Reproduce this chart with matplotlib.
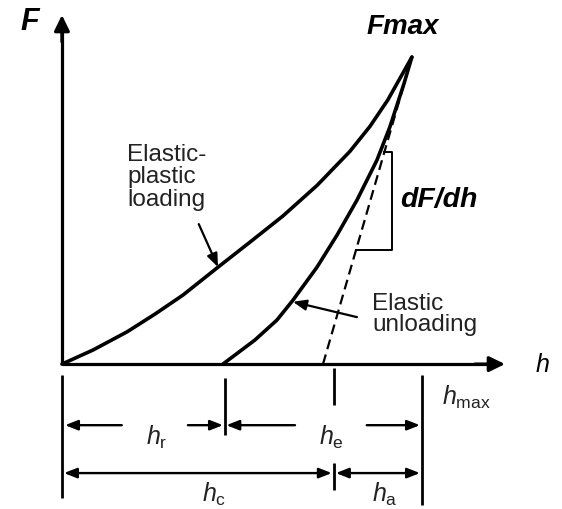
import matplotlib
matplotlib.use("Agg")
import matplotlib.pyplot as plt

plt.rcParams['font.family'] = ['Liberation Sans', 'DejaVu Sans']
plt.rcParams['mathtext.fontset'] = 'custom'
plt.rcParams['mathtext.rm'] = 'Liberation Sans'
plt.rcParams['mathtext.it'] = 'Liberation Sans:italic'
plt.rcParams['mathtext.bf'] = 'Liberation Sans:bold'

# loading / unloading curves (h in arb. units, F in % of Fmax)
load_h = [0, 8.9, 18.6, 26.6, 34.6, 44.3, 53.7, 63.1, 72.9, 82.3, 88.0, 93.1, 100]
load_F = [0, 4.6, 10.5, 16.3, 22.5, 31.3, 39.7, 48.2, 58.2, 69.3, 77.4, 86.0, 100]
unload_h = [46.0, 55.1, 61.4, 66.0, 72.9, 78.6, 84.3, 90.0, 93.7, 97.7, 100]
unload_F = [0, 7.8, 14.3, 20.8, 31.6, 42.0, 53.4, 66.4, 77.2, 91.2, 100]

# tangent (contact stiffness) line
tangent_h = [74.6, 100]
tangent_F = [0, 100]

# characteristic depths
h_r = 46.5
h_c = 77.7
h_max = 102.9

# slope triangle
tri_x = 94.3
tri_top = 69.1
tri_bot = 37.1

fig = plt.figure(figsize=(5.62, 5.09), dpi=100)
ax = fig.add_axes([0, 0, 1, 1])
ax.set_xlim(-17.7, 142.9)
ax.set_ylim(-47.2, 118.6)
ax.set_axis_off()

k = 'black'

# axes with arrows
ax.plot([0, 0], [0, 110], color=k, lw=2.3, solid_capstyle='butt')
ax.plot([0, 123], [0, 0], color=k, lw=2.3, solid_capstyle='butt')
big = dict(arrowstyle='-|>,head_length=0.47,head_width=0.23', color=k, lw=2.3,
           shrinkA=0, shrinkB=0, mutation_scale=20)
ax.annotate('', xy=(0, 113.7), xytext=(0, 105), arrowprops=big)
ax.annotate('', xy=(126.6, 0), xytext=(118, 0), arrowprops=big)

# curves
ax.plot(load_h, load_F, color=k, lw=2.6, solid_capstyle='round', solid_joinstyle='round')
ax.plot(unload_h, unload_F, color=k, lw=2.6, solid_capstyle='round', solid_joinstyle='round')
ax.plot(tangent_h, tangent_F, color=k, lw=1.6, linestyle=(0, (4.5, 2.5)))

# slope triangle
slope = (tangent_F[1] - tangent_F[0]) / (tangent_h[1] - tangent_h[0])
x_top = tangent_h[0] + tri_top / slope
x_bot = tangent_h[0] + tri_bot / slope
ax.plot([x_top, tri_x, tri_x, x_bot], [tri_top, tri_top, tri_bot, tri_bot],
        color=k, lw=1.4)

# labels
ax.text(-9.1, 111.4, 'F', fontsize=22, fontweight='bold', fontstyle='italic',
        ha='center', va='center')
ax.text(97.4, 109.8, 'Fmax', fontsize=20, fontweight='bold', fontstyle='italic',
        ha='center', va='center')
ax.text(137.4, -0.3, 'h', fontsize=18, fontstyle='italic', ha='center', va='center')
ax.text(96.6, 53.4, 'dF/dh', fontsize=20.5, fontweight='bold', fontstyle='italic',
        ha='left', va='center')
ax.text(18.6, 71.7, 'Elastic-\nplastic\nloading', fontsize=17.5, color='#222222',
        ha='left', va='top', linespacing=1.02)
ax.text(88.6, 23.3, 'Elastic\nunloading', fontsize=17.5, color='#222222',
        ha='left', va='top', linespacing=0.98)

small = dict(arrowstyle='-|>,head_length=0.4,head_width=0.16', color=k, lw=1.6,
             shrinkA=0, shrinkB=0, mutation_scale=20)
ax.annotate('', xy=(44.6, 31.6), xytext=(39.1, 45.6), arrowprops=small)
ax.annotate('', xy=(66.0, 20.3), xytext=(84.3, 15.3), arrowprops=small)

# dimension lines below the axis
dl = dict(color=k, lw=2.0, solid_capstyle='butt')
ax.plot([0, 0], [-3.6, -43.6], **dl)
ax.plot([h_r, h_r], [-4.6, -23.1], **dl)
ax.plot([h_c, h_c], [-1.3, -13.4], **dl)
ax.plot([h_c, h_c], [-32.2, -41.0], **dl)
ax.plot([h_max, h_max], [-3.6, -45.9], **dl)

dim = dict(arrowstyle='-|>,head_length=0.38,head_width=0.15', color=k, lw=1.7,
           shrinkA=0, shrinkB=0, mutation_scale=20)
dim2 = dict(dim, arrowstyle='<|-|>,head_length=0.38,head_width=0.15')
row1 = -19.9
row2 = -35.5
ax.annotate('', xy=(0.9, row1), xytext=(17.1, row1), arrowprops=dim)
ax.annotate('', xy=(h_r - 0.5, row1), xytext=(36.0, row1), arrowprops=dim)
ax.annotate('', xy=(h_r + 0.5, row1), xytext=(66.6, row1), arrowprops=dim)
ax.annotate('', xy=(h_max - 0.6, row1), xytext=(87.1, row1), arrowprops=dim)
ax.annotate('', xy=(0.6, row2), xytext=(h_c - 0.6, row2), arrowprops=dim2)
ax.annotate('', xy=(h_c + 0.6, row2), xytext=(h_max - 0.6, row2), arrowprops=dim2)

lab = dict(fontsize=18, ha='center', va='center', color='#222222')
ax.text(27.1, -23.8, r'$\mathit{h}_{\mathrm{r}}$', **lab)
ax.text(76.9, -23.8, r'$\mathit{h}_{\mathrm{e}}$', **lab)
ax.text(43.4, -42.3, r'$\mathit{h}_{\mathrm{c}}$', **lab)
ax.text(92.3, -42.3, r'$\mathit{h}_{\mathrm{a}}$', **lab)
ax.text(108.6, -10.7, r'$\mathit{h}_{\mathrm{max}}$', fontsize=18, ha='left',
        va='center', color='#222222')

fig.savefig('out.png', dpi=100)
